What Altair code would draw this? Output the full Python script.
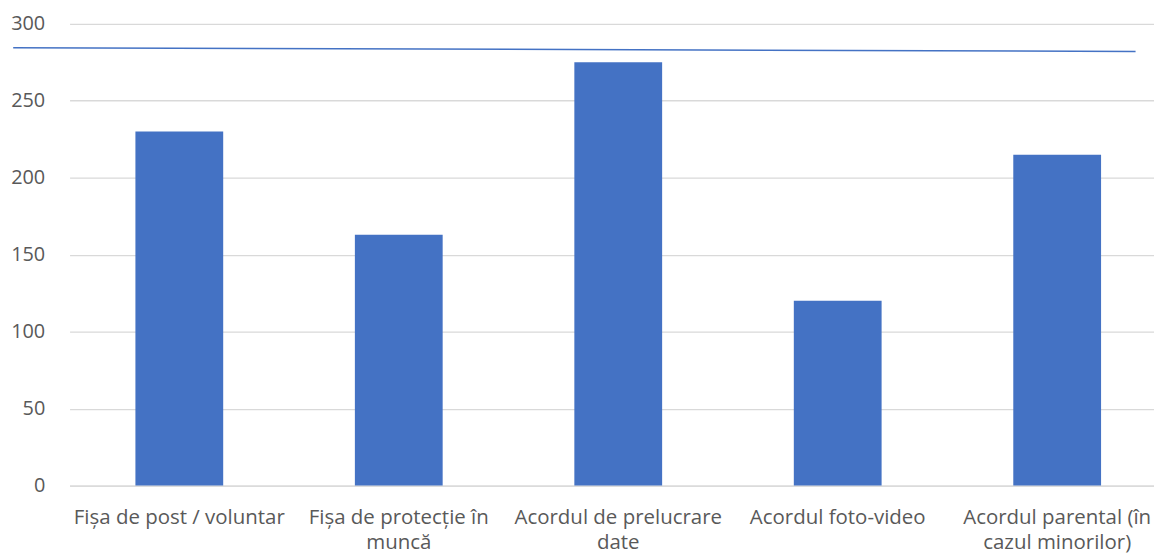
import altair as alt
import pandas as pd

categories = [
    "Fișa de post / voluntar",
    "Fișa de protecție în\nmuncă",
    "Acordul de prelucrare\ndate",
    "Acordul foto-video",
    "Acordul parental (în\ncazul minorilor)",
]
values = [230, 163, 275, 120, 215]

# thin blue reference line drawn across the chart (fraction of plot width, value)
line_x = [-0.052, 0.983]
line_y = [284.5, 282]

bars_df = pd.DataFrame({"cat": categories, "val": values})
line_df = pd.DataFrame({"px": line_x, "py": line_y})

FONT = "Open Sans"
TEXT = "#595959"
GRID = "#D9D9D9"
BLUE = "#4472C4"

y_scale = alt.Scale(domain=[0, 300])
y_axis = alt.Axis(
    values=[0, 50, 100, 150, 200, 250, 300],
    labelFont=FONT,
    labelFontSize=20,
    labelColor=TEXT,
    labelPadding=25,
    ticks=False,
    tickSize=0,
    domain=False,
    grid=True,
    gridColor=GRID,
    gridWidth=1.3,
)

bars = alt.Chart(bars_df).mark_bar(color=BLUE).encode(
    x=alt.X(
        "cat:N",
        sort=categories,
        title=None,
        scale=alt.Scale(paddingInner=0.6, paddingOuter=0.3, range=[0, 1105]),
        axis=alt.Axis(
            labelAngle=0,
            labelExpr="split(datum.label, '\\n')",
            labelFont=FONT,
            labelFontSize=20.6,
            labelColor=TEXT,
            labelLineHeight=25.5,
            labelPadding=22,
            ticks=False,
            tickSize=0,
            domain=True,
            domainColor=GRID,
            domainWidth=1.3,
            grid=False,
            labelLimit=400,
        ),
    ),
    y=alt.Y("val:Q", scale=y_scale, title=None, axis=y_axis),
)

line = alt.Chart(line_df).mark_line(color=BLUE, strokeWidth=1.5, clip=False).encode(
    x=alt.X("px:Q", scale=alt.Scale(domain=[0, 1]), axis=None),
    y=alt.Y("py:Q", scale=y_scale, title=None, axis=y_axis),
)

chart = (
    alt.layer(bars, line)
    .resolve_scale(x="independent")
    .properties(
        width=1092,
        height=465,
        autosize=alt.AutoSizeParams(type="none"),
        padding={"left": 62, "top": 14, "right": 0, "bottom": 70},
        background="white",
    )
    .configure_view(stroke=None)
)

chart.save("out.html", embed_options={"renderer": "svg", "actions": False})
